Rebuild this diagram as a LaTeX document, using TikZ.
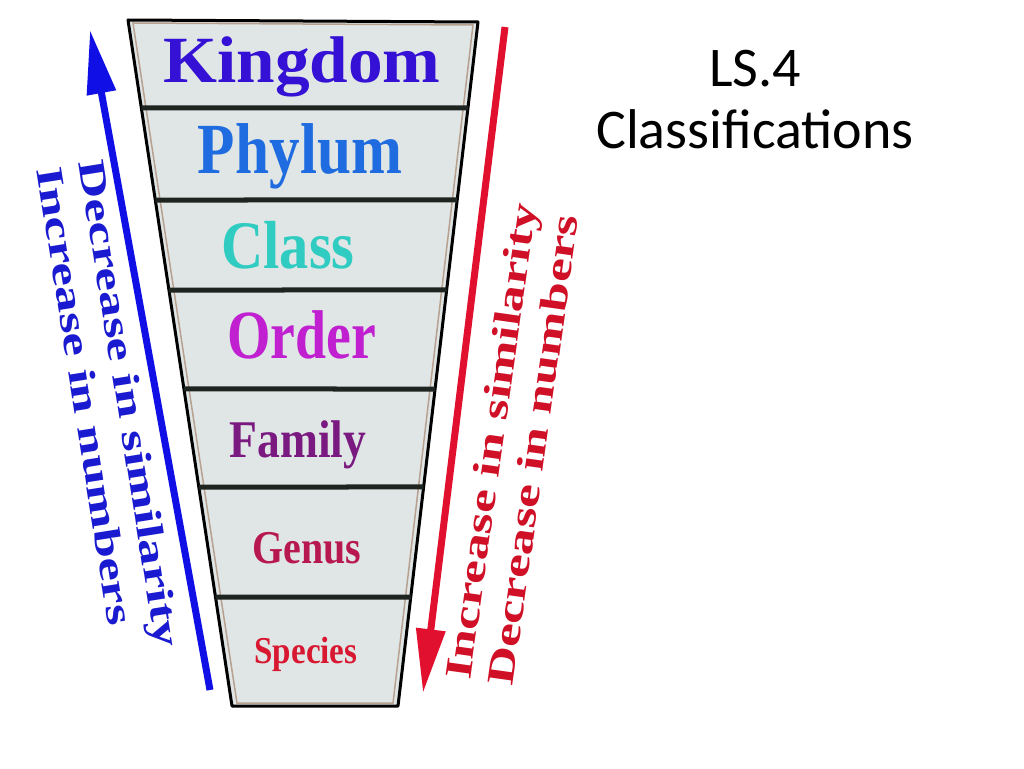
\documentclass[tikz,border=0pt]{standalone}
\usepackage{fontspec}
\usepackage{graphicx}
\setmainfont{Liberation Serif}[BoldFont={Liberation Serif Bold}]
\newfontfamily\rankfont{Liberation Serif Bold}
\newfontfamily\titlefont{Carlito}
\usetikzlibrary{arrows.meta,calc}
\definecolor{cellfill}{HTML}{DFE6E5}
\definecolor{innerline}{HTML}{B8A090}
\definecolor{divcol}{HTML}{1E2420}
\definecolor{kingdomc}{HTML}{3510D5}
\definecolor{phylumc}{HTML}{1F6BE0}
\definecolor{classc}{HTML}{30CCC2}
\definecolor{orderc}{HTML}{C020D0}
\definecolor{familyc}{HTML}{7A1A80}
\definecolor{genusc}{HTML}{B81850}
\definecolor{speciesc}{HTML}{D81830}
\definecolor{arrblue}{HTML}{1010E6}
\definecolor{arrred}{HTML}{E0102E}
\definecolor{txtblue}{HTML}{1A1AD0}
\definecolor{txtred}{HTML}{D01026}
\newcommand{\ranklabel}[7]{%
  \node[rank, text=#4] (#1) at (#2,#3) {\scalebox{#6}[1]{\fontsize{#5}{#5}\selectfont #7}};
}
\newcommand{\wide}[1]{\scalebox{1.4}[1]{#1}}
\begin{document}
\begin{tikzpicture}[x=1pt,y=-1pt,
  rank/.style={anchor=base, inner sep=0pt, font=\rankfont},
  frame/.style={draw=black, line width=3pt, fill=cellfill, line join=round},
  inner/.style={draw=innerline, line width=1.5pt},
  divider/.style={draw=divcol, line width=5pt},
  bluearrow/.style={draw=arrblue, line width=7pt, -{Triangle[length=64pt,width=28pt]}},
  redarrow/.style={draw=arrred, line width=7pt, -{Triangle[length=64pt,width=28pt]}},
  sidetext/.style={inner sep=0pt, align=left, font=\rankfont\fontsize{38}{43}\selectfont},
  titlestyle/.style={anchor=base, inner sep=0pt, font=\titlefont\fontsize{56}{60}\selectfont, text=black}
]
\useasboundingbox (0,0) rectangle (1024,768);
\fill[white] (0,0) rectangle (1024,768);

% funnel frame
\coordinate (tl) at (128,20);
\coordinate (tr) at (478,22);
\coordinate (br) at (398,706);
\coordinate (bl) at (232,706);
\draw[frame] (tl) -- (tr) -- (br) -- (bl) -- cycle;
\draw[inner] ($(tl)+(5,3)$) -- ($(tr)+(-5,3)$) -- ($(br)+(-5,-3)$) -- ($(bl)+(5,-3)$) -- cycle;

% dividers
\foreach \yy in {108,200,290,389,487,597}{
  \draw[divider] ($(tl)!{(\yy-20)/686}!(bl)$) -- ($(tr)!{(\yy-22)/684}!(br)$);
}

% rank labels
\ranklabel{kingdom}{302}{82}{kingdomc}{66}{1.05}{Kingdom}
\ranklabel{phylum}{300}{173}{phylumc}{72}{0.85}{Phylum}
\ranklabel{class}{288}{268}{classc}{68}{0.86}{Class}
\ranklabel{order}{302}{358}{orderc}{69}{0.81}{Order}
\ranklabel{family}{298}{457}{familyc}{53}{0.86}{Family}
\ranklabel{genus}{307}{563}{genusc}{47}{0.85}{Genus}
\ranklabel{species}{306}{663}{speciesc}{38}{0.87}{Species}

% arrows
\coordinate (bstart) at (210,690);
\coordinate (bend) at (90,30);
\draw[bluearrow] (bstart) -- (bend);
\coordinate (rstart) at (505,27);
\coordinate (rend) at (423,693);
\draw[redarrow] (rstart) -- (rend);

% side texts
\node[sidetext, text=txtblue, rotate=-81] (bluetext) at (109,407)
  {\wide{Decrease in similarity}\\\wide{Increase in numbers}};
\node[sidetext, text=txtred, rotate=82] (redtext) at (512,444)
  {\wide{Increase in similarity}\\\wide{Decrease in numbers}};

% title
\node[titlestyle] (ls) at (755,86) {LS.4};
\node[titlestyle] (cls) at (755,148) {Classifications};
\end{tikzpicture}
\end{document}
